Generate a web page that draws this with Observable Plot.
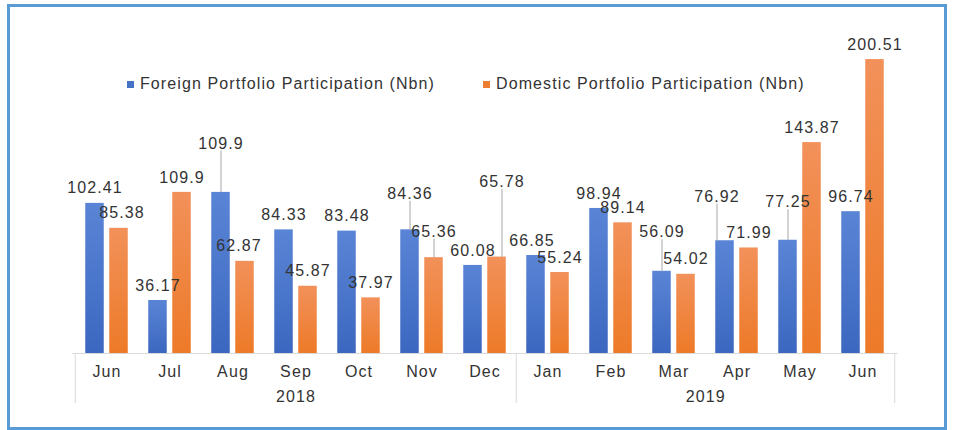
<!DOCTYPE html>
<html>
<head>
<meta charset="utf-8">
<script src="https://cdn.jsdelivr.net/npm/d3@7"></script>
<script src="https://cdn.jsdelivr.net/npm/@observablehq/plot@0.6"></script>
<style>
  body { margin: 0; background: #fff; font-family: "Liberation Sans", Arial, sans-serif; }
  #wrap { position: relative; width: 954px; height: 430px; overflow: hidden; background: #fff; }
  #frame { position: absolute; left: 7px; top: 4px; width: 940px; height: 426px; border: 3.5px solid #5b9bd5; box-sizing: border-box; pointer-events: none; }
  #chart { position: absolute; left: 0; top: 0; }
  #chart svg text { letter-spacing: 1.1px; }
  .leg { position: absolute; top: 74px; font-size: 16px; letter-spacing: 1.1px; color: #333; white-space: nowrap; line-height: 20px; }
  .sw { display: inline-block; width: 7px; height: 7px; margin-right: 6px; vertical-align: 1px; }
</style>
</head>
<body>
<div id="wrap">
  <div id="chart"></div>
  <div id="legend"></div>
  <div id="frame"></div>
</div>
<script>
// ---- data ----
const months = ["Jun","Jul","Aug","Sep","Oct","Nov","Dec","Jan","Feb","Mar","Apr","May","Jun"];
const years  = ["2018","2018","2018","2018","2018","2018","2018","2019","2019","2019","2019","2019","2019"];
const foreign  = [102.41, 36.17, 109.9, 84.33, 83.48, 84.36, 60.08, 66.85, 98.94, 56.09, 76.92, 77.25, 96.74];
const domestic = [85.38, 109.9, 62.87, 45.87, 37.97, 65.36, 65.78, 55.24, 89.14, 54.02, 71.99, 143.87, 200.51];
const seriesNames = ["Foreign Portfolio Participation (Nbn)", "Domestic Portfolio Participation (Nbn)"];
const yearLabels = ["2018", "2019"];

// ---- layout / style ----
const colors = { F: "#4472c4", D: "#ed7d31" };
const YMAX = 210, K = 1.466, BASE = 353;
const MT = BASE - YMAX * K;
// manual nudges of data labels, like the dragged labels of the original (px)
const labelNudge = {
  "2018 Jun|D": {dx: 3}, "2018 Aug|F": {lift: 34}, "2018 Aug|D": {dx: -6},
  "2018 Nov|F": {lift: 21}, "2018 Nov|D": {lift: 11}, "2018 Dec|D": {lift: 60, dx: 5},
  "2019 Jan|F": {dx: -4}, "2019 Mar|F": {lift: 24}, "2019 Apr|F": {lift: 29, dx: -8},
  "2019 May|F": {lift: 23}
};

const keys = months.map((m, i) => `${years[i]} ${m}`);
function rowsFor(vals, s) {
  return vals.map((v, i) => {
    const n = labelNudge[`${keys[i]}|${s}`] || {};
    return { key: keys[i], value: v, series: s, lift: n.lift || 0,
             dx: (s === "F" ? -12 : 12) + (n.dx || 0) };
  });
}
const fRows = rowsFor(foreign, "F");
const dRows = rowsFor(domestic, "D");
const allRows = fRows.concat(dRows);

const fmt = v => String(v);
const labelMarks = [];
for (const [dx, rows] of d3.group(allRows, d => d.dx)) {
  labelMarks.push(Plot.text(rows, {
    x: "key", y: d => d.value + (15 + d.lift) / K, text: d => fmt(d.value),
    dx, fill: "#333", fontSize: 16
  }));
  const lifted = rows.filter(d => d.lift > 0);
  if (lifted.length) labelMarks.unshift(Plot.link(lifted, {
    x1: "key", x2: "key", y1: "value", y2: d => d.value + (15 + d.lift - 7) / K,
    dx, stroke: "#a6a6a6", strokeWidth: 1
  }));
}

const below = 50 / K;
const chart = Plot.plot({
  width: 954, height: 430,
  marginLeft: 72, marginRight: 56.5, marginTop: MT, marginBottom: 430 - BASE,
  x: { type: "band", domain: keys, padding: 0, label: null },
  y: { domain: [0, YMAX], axis: null },
  style: { fontFamily: "'Liberation Sans', Arial, sans-serif", fontSize: "16px", color: "#333", background: "transparent", overflow: "visible" },
  marks: [
    Plot.ruleY([0], { stroke: "#d9d9d9" }),
    Plot.ruleX([keys[0], keys[7]], { y1: () => 0, y2: () => -below, dx: -31.75, stroke: "#d9d9d9" }),
    Plot.ruleX([keys[12]], { y1: () => 0, y2: () => -below, dx: 31.75, stroke: "#d9d9d9" }),
    Plot.barY(fRows, { x: "key", y: "value", fill: "url(#gBlue)", insetLeft: 10.25, insetRight: 34.25 }),
    Plot.barY(dRows, { x: "key", y: "value", fill: "url(#gOrange)", insetLeft: 34.25, insetRight: 10.25 }),
    ...labelMarks,
    Plot.axisX({ tickSize: 0, tickPadding: 12, tickFormat: k => k.split(" ")[1], fontSize: 16, fill: "#333", label: null }),
    Plot.text([yearLabels[0]], { x: () => keys[3], frameAnchor: "bottom", dy: 48.5, text: d => d, fill: "#333", fontSize: 16 }),
    Plot.text([yearLabels[1]], { x: () => keys[9], frameAnchor: "bottom", dy: 48.5, dx: 31.75, text: d => d, fill: "#333", fontSize: 16 })
  ]
});

// gradients for the bars
const svg = d3.select(chart);
const defs = svg.insert("defs", ":first-child");
function grad(id, top, bottom) {
  const g = defs.append("linearGradient").attr("id", id).attr("x1", 0).attr("y1", 0).attr("x2", 0).attr("y2", 1);
  g.append("stop").attr("offset", "0%").attr("stop-color", top);
  g.append("stop").attr("offset", "100%").attr("stop-color", bottom);
}
grad("gBlue", "#5a85d6", "#3b67c0");
grad("gOrange", "#f2915a", "#ed7a28");
document.getElementById("chart").appendChild(chart);

// legend
const legend = document.getElementById("legend");
[[127, "F", seriesNames[0]], [483, "D", seriesNames[1]]].forEach(([left, s, name]) => {
  const d = document.createElement("div");
  d.className = "leg";
  d.style.left = left + "px";
  d.innerHTML = `<span class="sw" style="background:${colors[s]}"></span>${name}`;
  legend.appendChild(d);
});
</script>
</body>
</html>
